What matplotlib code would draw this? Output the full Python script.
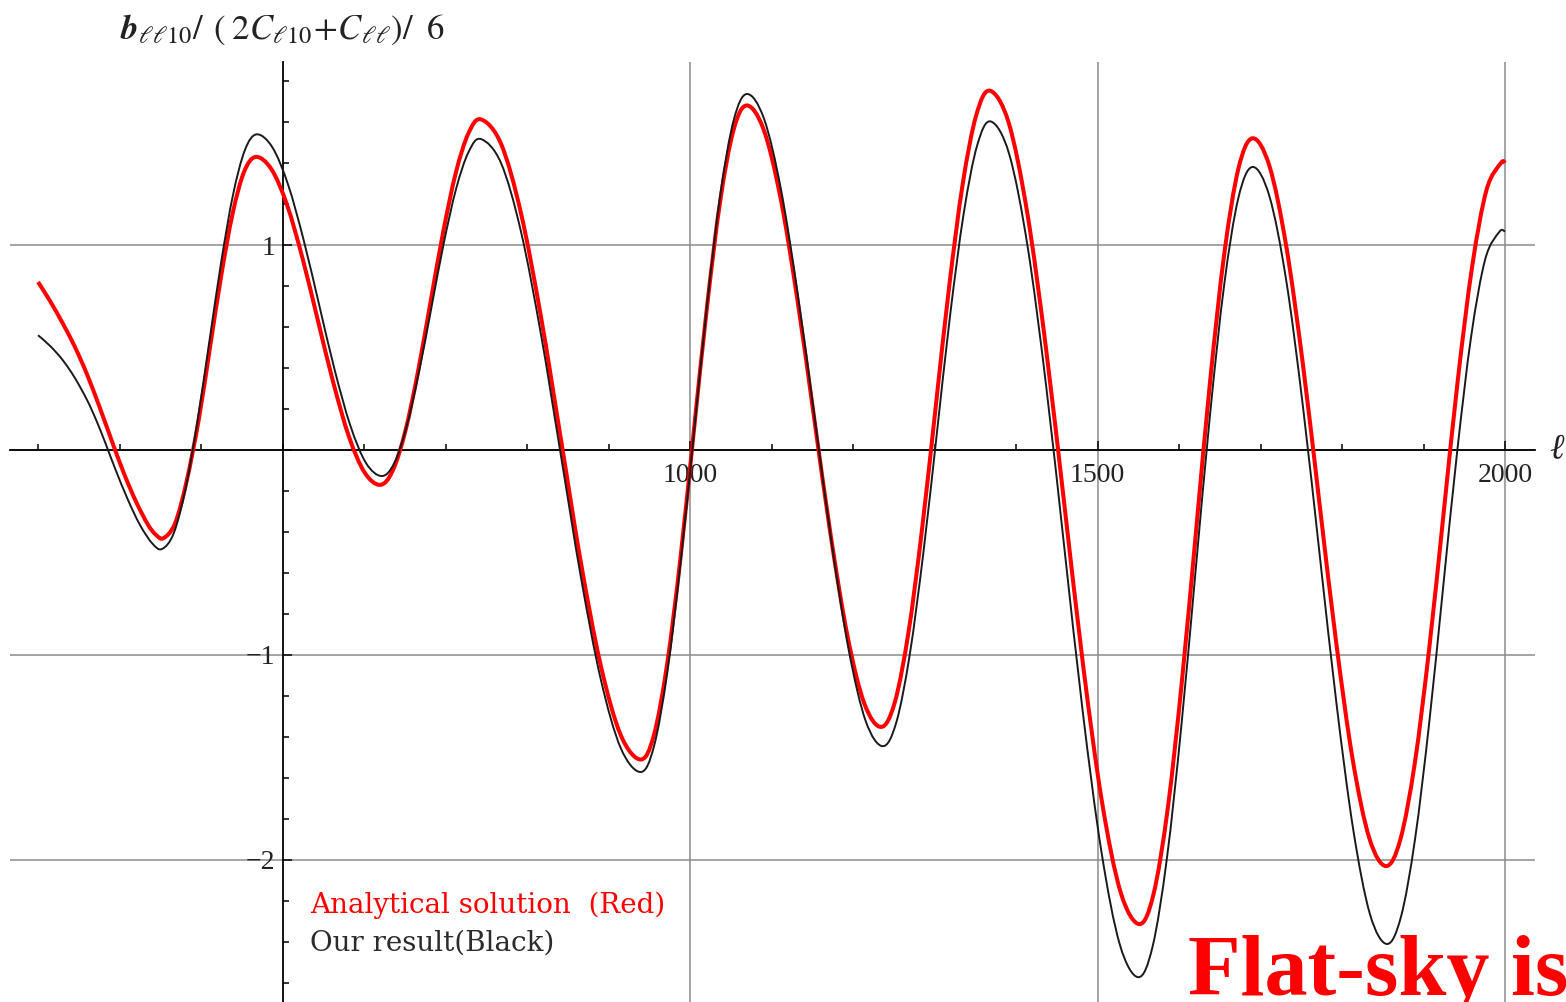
import matplotlib
matplotlib.use("Agg")
import matplotlib.pyplot as plt
from matplotlib.path import Path
from matplotlib.patches import PathPatch
from matplotlib.ticker import FixedLocator, FixedFormatter, MultipleLocator

plt.rcParams['mathtext.fontset'] = 'stix'

# --- data: multipole ell and normalised bispectrum ---
red_ell = [200, 215, 230, 245, 260, 275, 290, 305, 320, 335, 345,
           354, 368, 382, 397, 411, 425, 439, 453, 467.5,
           486.5, 505.5, 524.5, 543.5, 562.6, 581.6, 600.6, 619.6,
           635.1, 650.6, 666.1, 681.6, 697.1, 712.6, 728.1, 743.6,
           768.1, 792.6, 817.1, 841.6, 866.0, 890.5, 915.0, 939.5,
           955.8, 972.0, 988.3, 1004.5, 1020.8, 1037.0, 1053.3, 1069.5,
           1090.1, 1110.7, 1131.3, 1152.0, 1172.6, 1193.2, 1213.8, 1234.4,
           1251.1, 1267.8, 1284.5, 1301.2, 1317.9, 1334.6, 1351.3, 1368,
           1390.9, 1413.8, 1436.7, 1459.7, 1482.6, 1505.5, 1528.4, 1551.3,
           1568.7, 1586.1, 1603.5, 1620.9, 1638.2, 1655.6, 1673.0, 1690.4,
           1710.9, 1731.3, 1751.8, 1772.2, 1792.7, 1813.1, 1833.6, 1854,
           1871.6, 1889.3, 1906.9, 1924.5, 1942.1, 1959.8, 1977.4, 1995, 2000]
red_val = [0.82, 0.725, 0.62, 0.505, 0.37, 0.215, 0.05, -0.11, -0.25, -0.365, -0.415,
           -0.43, -0.359, -0.158, 0.144, 0.5, 0.856, 1.158, 1.359, 1.43,
           1.369, 1.196, 0.936, 0.63, 0.324, 0.064, -0.109, -0.17,
           -0.102, 0.091, 0.380, 0.722, 1.063, 1.352, 1.545, 1.613,
           1.494, 1.155, 0.650, 0.052, -0.547, -1.052, -1.391, -1.51,
           -1.389, -1.042, -0.526, 0.086, 0.697, 1.214, 1.560, 1.681,
           1.566, 1.237, 0.746, 0.165, -0.416, -0.907, -1.236, -1.351,
           -1.233, -0.896, -0.393, 0.201, 0.795, 1.298, 1.635, 1.753,
           1.598, 1.157, 0.499, -0.28, -1.059, -1.717, -2.158, -2.313,
           -2.167, -1.751, -1.130, -0.396, 0.338, 0.959, 1.375, 1.521,
           1.386, 1.001, 0.425, -0.255, -0.934, -1.510, -1.895, -2.03,
           -1.900, -1.528, -0.972, -0.315, 0.342, 0.898, 1.270, 1.40, 1.40]

black_ell = [200, 215, 230, 245, 260, 272, 284, 295, 310, 325, 340,
             352, 366.5, 381.1, 395.6, 410.2, 424.7, 439.2, 453.8, 468.3,
             487.5, 506.7, 525.8, 545.0, 564.2, 583.4, 602.5, 621.7,
             636.9, 652.2, 667.4, 682.7, 697.9, 713.1, 728.4, 743.6,
             768.1, 792.6, 817.1, 841.6, 866.0, 890.5, 915.0, 939.5,
             955.8, 972.1, 988.4, 1004.8, 1021.1, 1037.4, 1053.7, 1070,
             1090.8, 1111.6, 1132.4, 1153.3, 1174.1, 1194.9, 1215.7, 1236.5,
             1253.1, 1269.6, 1286.2, 1302.8, 1319.3, 1335.9, 1352.4, 1369,
             1391.6, 1414.3, 1436.9, 1459.5, 1482.1, 1504.8, 1527.4, 1550,
             1567.6, 1585.1, 1602.7, 1620.2, 1637.8, 1655.3, 1672.9, 1690.4,
             1711.0, 1731.6, 1752.1, 1772.7, 1793.3, 1813.9, 1834.4, 1855,
             1872.3, 1889.5, 1906.8, 1924, 1941.3, 1958.5, 1975.8, 1993, 2000]
black_val = [0.56, 0.507, 0.44, 0.353, 0.245, 0.14, 0.02, -0.095, -0.24, -0.365, -0.455,
             -0.483, -0.406, -0.187, 0.141, 0.529, 0.916, 1.244, 1.463, 1.54,
             1.477, 1.296, 1.026, 0.707, 0.387, 0.117, -0.064, -0.127,
             -0.065, 0.114, 0.380, 0.695, 1.010, 1.276, 1.455, 1.517,
             1.400, 1.065, 0.564, -0.027, -0.618, -1.119, -1.454, -1.571,
             -1.445, -1.086, -0.550, 0.083, 0.716, 1.252, 1.611, 1.737,
             1.616, 1.271, 0.755, 0.146, -0.463, -0.979, -1.324, -1.445,
             -1.329, -0.998, -0.505, 0.079, 0.663, 1.156, 1.487, 1.603,
             1.444, 0.991, 0.315, -0.485, -1.284, -1.960, -2.413, -2.572,
             -2.422, -1.993, -1.353, -0.596, 0.162, 0.802, 1.231, 1.381,
             1.237, 0.826, 0.211, -0.515, -1.240, -1.855, -2.266, -2.41,
             -2.278, -1.901, -1.338, -0.673, -0.008, 0.555, 0.932, 1.064, 1.066]

x_major = [1000, 1500, 2000]
x_labels = ['1000', '1500', '2000']
y_major = [-2, -1, 0, 1]
y_labels = ['\u22122', '\u22121', '', '1']

serif = ['Liberation Serif', 'DejaVu Serif']


def smooth_path(xs, ys):
    # bezier segments through every read point (Catmull-Rom tangents)
    pts = list(zip(xs, ys))
    n = len(pts)
    verts = [pts[0]]
    codes = [Path.MOVETO]
    for i in range(n - 1):
        p0 = pts[max(i - 1, 0)]
        p1 = pts[i]
        p2 = pts[i + 1]
        p3 = pts[min(i + 2, n - 1)]
        c1 = (p1[0] + (p2[0] - p0[0]) / 6, p1[1] + (p2[1] - p0[1]) / 6)
        c2 = (p2[0] - (p3[0] - p1[0]) / 6, p2[1] - (p3[1] - p1[1]) / 6)
        verts += [c1, c2, p2]
        codes += [Path.CURVE4] * 3
    return Path(verts, codes)


fig = plt.figure(figsize=(15.66, 10.02), dpi=100)
ax = fig.add_axes([10 / 1566, 0, 1525 / 1566, 940 / 1002])

ax.add_patch(PathPatch(smooth_path(red_ell, red_val), facecolor='none',
                       edgecolor='#ff0000', lw=2.9, zorder=3, joinstyle='round'))
ax.add_patch(PathPatch(smooth_path(black_ell, black_val), facecolor='none',
                       edgecolor='#1a1a1a', lw=1.4, zorder=4, joinstyle='round'))

ax.set_xlim(165.6, 2036.8)
ax.set_ylim(-2.693, 1.893)

# Mathematica-style axes through (500, 0)
for s in ['top', 'right']:
    ax.spines[s].set_visible(False)
ax.spines['left'].set_position(('data', 500))
ax.spines['bottom'].set_position(('data', 0))
for s in ['left', 'bottom']:
    ax.spines[s].set_linewidth(1.3)
    ax.spines[s].set_color('black')
    ax.spines[s].set_zorder(2)

ax.xaxis.set_major_locator(FixedLocator(x_major))
ax.xaxis.set_major_formatter(FixedFormatter(x_labels))
ax.xaxis.set_minor_locator(MultipleLocator(100))
ax.yaxis.set_major_locator(FixedLocator(y_major))
ax.yaxis.set_major_formatter(FixedFormatter(y_labels))
ax.yaxis.set_minor_locator(MultipleLocator(0.2))

ax.tick_params(which='both', direction='in', color='black', width=1.1)
ax.tick_params(which='major', length=6.5, labelsize=20, labelcolor='#222222')
ax.tick_params(axis='x', which='major', pad=9)
ax.tick_params(axis='y', which='major', pad=5)
ax.tick_params(which='minor', length=4.5)
for lab in ax.get_xticklabels() + ax.get_yticklabels():
    lab.set_family(serif)

ax.grid(True, which='major', color='#8c8c8c', lw=1.1, zorder=1)
ax.set_axisbelow(True)

# axis labels
fig.text(120 / 1566, 1 - 30 / 1002,
         r'$\mathbfit{b}_{\ell\ell 10}/\;\,(\;2C_{\ell 10}\!+\!C_{\ell\ell})/\;\;6$',
         fontsize=25, ha='left', va='center', color='#222222')
fig.text(1549 / 1566, 1 - 450 / 1002, '\u2113', fontsize=25, style='italic',
         family=serif, ha='left', va='center', color='#222222')

# annotations
fig.text(310 / 1566, 1 - 905 / 1002, 'Analytical solution  (Red)', color='#ff0000',
         fontsize=20, family=['DejaVu Serif'], ha='left', va='center')
fig.text(310 / 1566, 1 - 943 / 1002, 'Our result(Black)', color='#2b2b2b',
         fontsize=20, family=['DejaVu Serif'], ha='left', va='center')
fig.text(1188 / 1566, 1 - 995 / 1002, 'Flat-sky is', color='#ff0000',
         fontsize=62, weight='bold', family=serif, ha='left', va='baseline')

fig.savefig('out.png', dpi=100)
